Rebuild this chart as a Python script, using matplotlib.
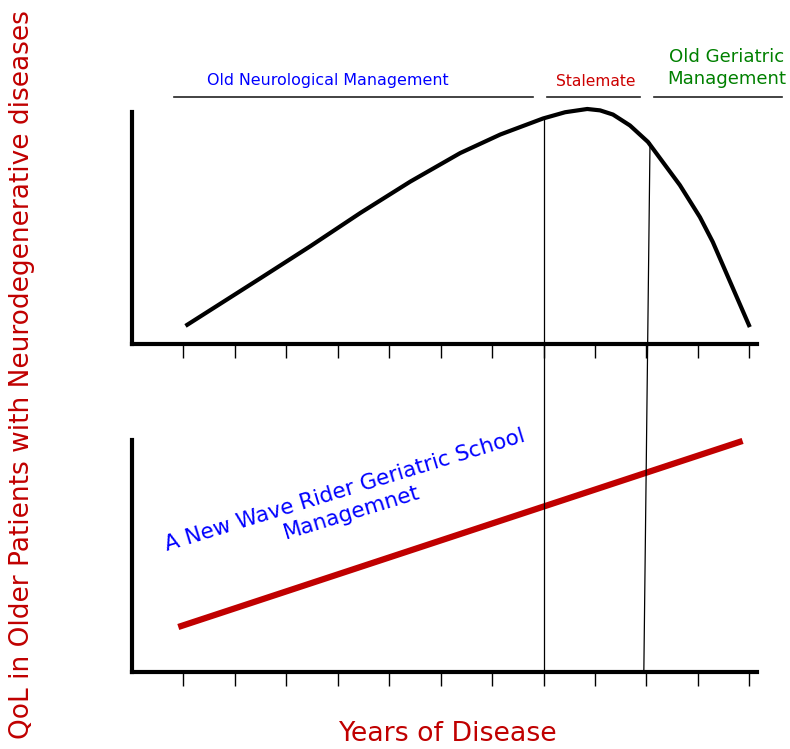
import matplotlib
matplotlib.use('Agg')
import matplotlib.pyplot as plt

# years on the x axis
years_ticks = list(range(1, 13))

# old management curve (QoL, 0-100 scale)
old_years = [1.04, 2.50, 3.47, 4.44, 5.41, 6.38, 7.16, 7.99, 8.42, 8.85, 9.10, 9.35, 9.68,
             10.03, 10.65, 11.04, 11.29, 12.01]
old_qol = [7.8, 28.4, 42.2, 56.5, 70.0, 82.3, 90.3, 97.2, 99.9, 101.3, 100.7, 98.9, 94.2,
           87.1, 68.5, 54.7, 44.0, 7.3]

# new wave line
new_years = [0.90, 11.87]
new_qol = [19.4, 99.6]

# phase boundaries (x at top, x at bottom)
bound1_x = [8.0, 8.0]
bound2_x = [10.07, 9.95]

phase_labels = ['Old Neurological Management', 'Stalemate', 'Old Geriatric\nManagement']
phase_colors = ['#0000ff', '#cc0000', '#008000']
phase_start = [0.81, 8.07, 10.15]
phase_end = [7.80, 9.87, 12.63]

RED = '#c00000'
W, H = 790, 749
XL = (0.0, 12.15)

fig = plt.figure(figsize=(W / 100, H / 100), dpi=100)


def panel(bottom_px):
    ax = fig.add_axes([132 / W, 1 - bottom_px / H, 625 / W, 232 / H])
    ax.set_xlim(*XL)
    ax.set_ylim(0, 100)
    for s in ['top', 'right']:
        ax.spines[s].set_visible(False)
    for s in ['left', 'bottom']:
        ax.spines[s].set_linewidth(3)
        ax.spines[s].set_capstyle('projecting')
    ax.set_xticks(years_ticks)
    ax.set_xticklabels([])
    ax.set_yticks([])
    ax.tick_params(axis='x', length=10, width=1.0, direction='out')
    ax.patch.set_alpha(0)
    return ax


ax1 = panel(344)
ax1.plot(old_years, old_qol, color='black', lw=3, solid_capstyle='butt',
         solid_joinstyle='round', clip_on=False)

ax2 = panel(672)
ax2.plot(new_years, new_qol, color=RED, lw=4.5, solid_capstyle='butt', clip_on=False)
ax2.text(4.2, 73.5, 'A New Wave Rider Geriatric School\nManagemnet', color='#0000ff',
         fontsize=15.5, ha='center', va='center', multialignment='center',
         rotation=17, rotation_mode='anchor', linespacing=1.25)

# overlay in pixel rows for the lines that cross both panels
ov = fig.add_axes([132 / W, 0, 625 / W, 1])
ov.set_xlim(*XL)
ov.set_ylim(H, 0)
ov.axis('off')
ov.plot(bound1_x, [118, 672], color='black', lw=0.9)
ov.plot(bound2_x, [143, 672], color='black', lw=0.9)

for lab, c, a, b in zip(phase_labels, phase_colors, phase_start, phase_end):
    ov.plot([a, b], [97, 97], color='#222222', lw=1.2, clip_on=False)
for lab, c, x, y, fs in zip(phase_labels, phase_colors, [3.816, 9.02, 11.56], [81, 82, 68], [11.4, 11.2, 13.1]):
    ov.text(x, y, lab, color=c, fontsize=fs, ha='center', va='center', clip_on=False,
            linespacing=1.25)

fig.text(447 / W, 1 - 734 / H, 'Years of Disease', color=RED, fontsize=19.3, ha='center', va='center')
fig.text(22 / W, 1 - 375 / H, 'QoL in Older Patients with Neurodegenerative diseases', color=RED,
         fontsize=19, ha='center', va='center', rotation=90)

fig.savefig('out.png', dpi=100)
